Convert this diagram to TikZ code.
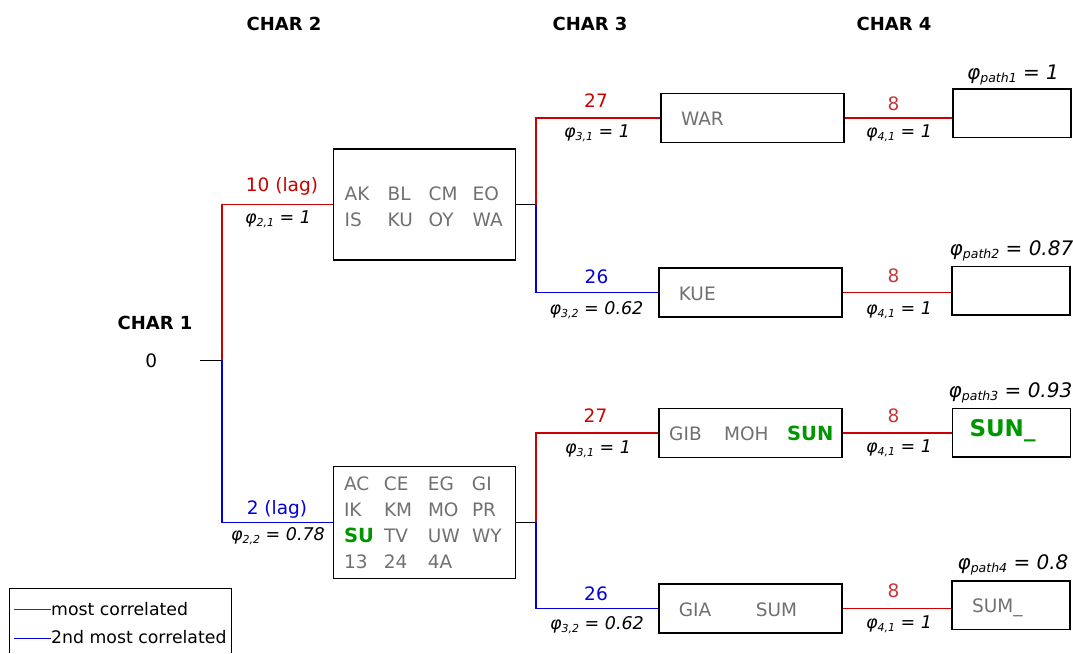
\documentclass[tikz,border=0pt]{standalone}
\usepackage{fontspec}
\setmainfont{DejaVu Sans}
\usepackage{xcolor}
\usepackage{tikz}

\definecolor{corrred}{RGB}{204,0,0}
\definecolor{corrblue}{RGB}{0,0,220}
\definecolor{lblred}{RGB}{200,55,55}
\definecolor{codegray}{RGB}{112,112,112}
\definecolor{hitgreen}{RGB}{0,150,0}

\newcommand{\hitname}[1]{\leavevmode{\fontsize{19.5}{26}\selectfont\bfseries\color{hitgreen}#1}}
\newcommand{\phiof}[1]{φ\raisebox{-3pt}{\fontsize{11}{12}\selectfont #1}}
\newcommand{\phipathof}[1]{φ\raisebox{-3.5pt}{\fontsize{12.5}{14}\selectfont #1}}

\begin{document}
\begin{tikzpicture}[x=1pt,y=-1pt,
  hdr/.style={font=\fontsize{18}{20}\selectfont\bfseries,anchor=base},
  num/.style={font=\fontsize{18.5}{20}\selectfont,anchor=base},
  phi/.style={font=\fontsize{17.5}{19}\selectfont\itshape,anchor=base},
  phipath/.style={font=\fontsize{20}{22}\selectfont\itshape,anchor=base},
  legtext/.style={font=\fontsize{17.3}{19}\selectfont,anchor=base west,inner sep=0pt},
  codebox/.style={draw,line width=1.4pt,inner sep=0pt,text=codegray,
    font=\fontsize{18.5}{26}\selectfont,text width=#1,align=left},
  stagebox/.style={codebox=183pt,minimum height=49pt,text height=15.5pt,text depth=0pt},
  pathbox/.style={codebox=118pt,minimum height=48.5pt,text height=14pt,text depth=0pt},
  redline/.style={corrred,line width=1.4pt},
  blueline/.style={corrblue,line width=1.4pt},
  stub/.style={black,line width=1.1pt}]
  \useasboundingbox (0,0) rectangle (1073,653);

  % column heads
  \node[hdr] (char2) at (284,30) {CHAR 2};
  \node[hdr] (char3) at (590,30) {CHAR 3};
  \node[hdr] (char4) at (894,30) {CHAR 4};
  \node[hdr] (char1) at (155,329.3) {CHAR 1};
  \node[num] (root) at (151.2,367.5) {0};

  % boxes
  \node[codebox=182pt,minimum height=111pt,text height=0pt,text depth=8pt] (b21) at (424.2,204.6)
    {\hspace*{11.5pt}\begin{tabular}[t]{@{}p{43pt}@{}p{41pt}@{}p{44pt}@{}l@{}}AK&BL&CM&EO\\IS&KU&OY&WA\end{tabular}};
  \node[codebox=182pt,minimum height=112pt,text height=0pt,text depth=63pt] (b22) at (424.5,522.2)
    {\hspace*{10.5pt}\begin{tabular}[t]{@{}p{40pt}@{}p{44pt}@{}p{44pt}@{}l@{}}AC&CE&EG&GI\\IK&KM&MO&PR\\\hitname{SU}&TV&UW&WY\\13&24&4A&\end{tabular}};
  \node[stagebox] (b31) at (752.5,118) {\hspace*{20pt}WAR};
  \node[stagebox] (b32) at (750.3,292.3) {\hspace*{20pt}KUE};
  \node[stagebox] (b33) at (750.3,433) {\hspace*{10.4pt}\makebox[55pt][l]{GIB}\makebox[63pt][l]{MOH}\hitname{SUN}};
  \node[stagebox] (b34) at (750.3,608.4) {\hspace*{20pt}\makebox[77pt][l]{GIA}SUM};
  \node[pathbox] (p1) at (1011.8,113.3) {};
  \node[pathbox] (p2) at (1011,290.8) {};
  \node[pathbox,text height=7.2pt] (p3) at (1011.5,432.7) {\hspace*{17pt}{\fontsize{23}{26}\selectfont\bfseries\color{hitgreen}SUN\_}};
  \node[pathbox,text height=13.8pt] (p4) at (1011,605.1) {\hspace*{20pt}SUM\_};

  % branches
  \coordinate (r0) at (200,360.3);
  \coordinate (j1) at (222,360.3);
  \coordinate (j2) at (536,204.6);
  \coordinate (j3) at (536,522.2);
  \draw[stub] (r0) -- (j1);
  \draw[redline] (j1) |- (b21.west);
  \draw[blueline] (j1) |- (b22.west);
  \draw[stub] (b21.east) -- (j2);
  \draw[redline] (j2) |- (b31.west);
  \draw[blueline] (j2) |- (b32.west);
  \draw[stub] (b22.east) -- (j3);
  \draw[redline] (j3) |- (b33.west);
  \draw[blueline] (j3) |- (b34.west);
  \draw[redline] (b31.east) -- (b31.east -| p1.west);
  \draw[redline] (b32.east) -- (b32.east -| p2.west);
  \draw[redline] (b33.east) -- (b33.east -| p3.west);
  \draw[redline] (b34.east) -- (b34.east -| p4.west);

  % branch labels
  \node[num,text=corrred] (n21) at (282,191.7) {10 (lag)};
  \node[phi] (f21) at (278,223.3) {\phiof{2,1} = 1};
  \node[num,text=corrblue] (n22) at (277,514) {2 (lag)};
  \node[phi] (f22) at (278,540) {\phiof{2,2} = 0.78};
  \node[num,text=corrred] (n31a) at (596,107) {27};
  \node[phi] (f31a) at (597,137.5) {\phiof{3,1}\ = 1};
  \node[num,text=corrblue] (n32a) at (596.5,283) {26};
  \node[phi] (f32a) at (596.5,314.4) {\phiof{3,2}\ = 0.62};
  \node[num,text=corrred] (n31b) at (595.5,422.5) {27};
  \node[phi] (f31b) at (598,453) {\phiof{3,1} = 1};
  \node[num,text=corrblue] (n32b) at (596,600) {26};
  \node[phi] (f32b) at (597,629) {\phiof{3,2} = 0.62};
  \node[num,text=lblred] (n41a) at (893.5,110) {8};
  \node[phi] (f41a) at (899,137.5) {\phiof{4,1} = 1};
  \node[num,text=lblred] (n41b) at (893.5,282.3) {8};
  \node[phi] (f41b) at (899,314) {\phiof{4,1} = 1};
  \node[num,text=lblred] (n41c) at (893.5,422.2) {8};
  \node[phi] (f41c) at (899,452.5) {\phiof{4,1} = 1};
  \node[num,text=lblred] (n41d) at (893.5,597.7) {8};
  \node[phi] (f41d) at (899,628) {\phiof{4,1} = 1};
  \node[phipath] (g1) at (1013,79) {\phipathof{path1} = 1};
  \node[phipath] (g2) at (1011.5,255) {\phipathof{path2} = 0.87};
  \node[phipath] (g3) at (1010.5,397) {\phipathof{path3} = 0.93};
  \node[phipath] (g4) at (1013,569) {\phipathof{path4} = 0.8};

  % legend
  \draw[line width=0.8pt] (9,653) |- (231,588.5) -- (231,653);
  \node[legtext] (lgred) at (51,615) {most correlated};
  \node[legtext] (lgblue) at (51,643.5) {2nd most correlated};
  \coordinate (lgredtip) at (14,609.3);
  \coordinate (lgbluetip) at (14,638.3);
  \draw[corrred,line width=1.6pt] (lgredtip) -- (lgredtip -| lgred.west);
  \draw[corrblue,line width=1.6pt] (lgbluetip) -- (lgbluetip -| lgblue.west);
\end{tikzpicture}
\end{document}
